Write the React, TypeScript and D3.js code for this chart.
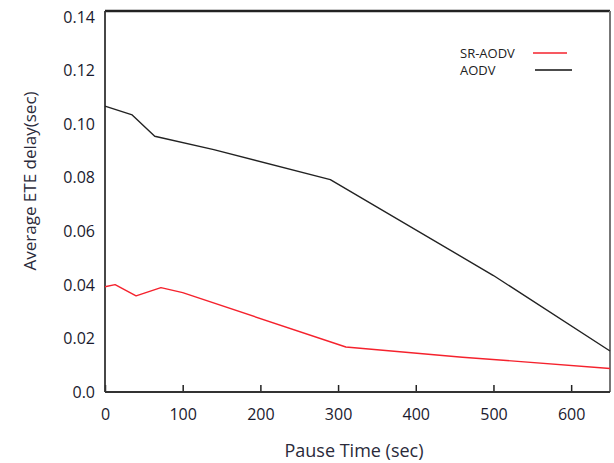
import React, { useEffect, useRef } from 'react'
import * as d3 from 'd3'

const pauseAodv = [0, 35, 64, 140, 290, 500, 650]
const delayAodv = [0.1068, 0.1035, 0.0955, 0.0905, 0.0793, 0.0435, 0.0153]

const pauseSr = [0, 13, 40, 72, 100, 310, 460, 650]
const delaySr = [0.0393, 0.0401, 0.0359, 0.039, 0.0371, 0.0168, 0.013, 0.0088]

const yTicks = [0, 0.02, 0.04, 0.06, 0.08, 0.1, 0.12, 0.14]
const yTickLabels = ['0.0', '0.02', '0.04', '0.06', '0.08', '0.10', '0.12', '0.14']
const xTicks = [0, 100, 200, 300, 400, 500, 600]

const W = 614, H = 463
const margin = { top: 11, right: 4, bottom: 71, left: 105 }
const font = "'Open Sans', 'DejaVu Sans', sans-serif"

export default function App() {
  const ref = useRef<SVGSVGElement>(null)

  useEffect(() => {
    const svg = d3.select(ref.current)
    svg.selectAll('*').remove()

    const x = d3.scaleLinear().domain([0, 650]).range([margin.left, W - margin.right])
    const y = d3.scaleLinear().domain([0, 0.1423]).range([H - margin.bottom, margin.top])

    svg.append('rect').attr('width', W).attr('height', H).attr('fill', '#fff')

    // x ticks point up into the plot
    const xAxis = svg.append('g')
      .attr('transform', `translate(0,${y(0)})`)
      .call(d3.axisBottom(x).tickValues(xTicks).tickSize(-7).tickPadding(13).tickFormat(d3.format('d')))
    xAxis.select('.domain').remove()
    xAxis.selectAll('line').attr('stroke', '#222').attr('stroke-width', 1.5)
    xAxis.selectAll('text')
      .attr('dy', '0.95em')
      .style('font-family', font).style('font-size', '16px').attr('fill', '#1a1a2e')

    const yAxis = svg.append('g')
      .attr('transform', `translate(${margin.left},0)`)
      .call(d3.axisLeft(y).tickValues(yTicks).tickSize(0).tickPadding(10)
        .tickFormat((d, i) => yTickLabels[i]))
    yAxis.select('.domain').remove()
    yAxis.selectAll('text')
      .style('font-family', font).style('font-size', '16px').attr('fill', '#1a1a2e')

    // frame
    svg.append('line').attr('x1', x(0)).attr('x2', x(650)).attr('y1', y(0.1423)).attr('y2', y(0.1423))
      .attr('stroke', '#222').attr('stroke-width', 2.5)
    svg.append('line').attr('x1', x(650)).attr('x2', x(650)).attr('y1', y(0.1423)).attr('y2', y(0))
      .attr('stroke', '#777').attr('stroke-width', 2)
    svg.append('line').attr('x1', x(0)).attr('x2', x(0)).attr('y1', y(0.1423)).attr('y2', y(0))
      .attr('stroke', '#333').attr('stroke-width', 1.8)
    svg.append('line').attr('x1', x(0)).attr('x2', x(650)).attr('y1', y(0)).attr('y2', y(0))
      .attr('stroke', '#333').attr('stroke-width', 1.8)

    const line = d3.line<[number, number]>()
      .x(d => x(d[0]))
      .y(d => y(d[1]))

    svg.append('path')
      .datum(pauseAodv.map((p, i) => [p, delayAodv[i]] as [number, number]))
      .attr('d', line)
      .attr('fill', 'none').attr('stroke', '#222').attr('stroke-width', 1.4)
      .attr('stroke-linejoin', 'round')

    svg.append('path')
      .datum(pauseSr.map((p, i) => [p, delaySr[i]] as [number, number]))
      .attr('d', line)
      .attr('fill', 'none').attr('stroke', '#f5222d').attr('stroke-width', 1.4)
      .attr('stroke-linejoin', 'round')

    // legend
    const legend = [
      { name: 'SR-AODV', color: '#f5222d', x1: 533, x2: 567, y: 53 },
      { name: 'AODV', color: '#111', x1: 535, x2: 572, y: 70 },
    ]
    legend.forEach(l => {
      svg.append('text').attr('x', 460).attr('y', l.y).attr('dy', '0.35em')
        .style('font-family', font).style('font-size', '13px').attr('fill', '#222')
        .text(l.name)
      svg.append('line').attr('x1', l.x1).attr('x2', l.x2).attr('y1', l.y).attr('y2', l.y)
        .attr('stroke', l.color).attr('stroke-width', 1.5)
    })

    svg.append('text')
      .attr('x', 354).attr('y', 457)
      .attr('text-anchor', 'middle')
      .style('font-family', font).style('font-size', '18px').attr('fill', '#2a2a3a')
      .text('Pause Time (sec)')

    svg.append('text')
      .attr('transform', `translate(36,181) rotate(-90)`)
      .attr('text-anchor', 'middle')
      .style('font-family', font).style('font-size', '17px').attr('fill', '#2a2a3a')
      .text('Average ETE delay(sec)')
  }, [])

  return (
    <svg ref={ref} width={W} height={H}
      style={{ position: 'absolute', left: 0, top: 0, display: 'block' }} />
  )
}
